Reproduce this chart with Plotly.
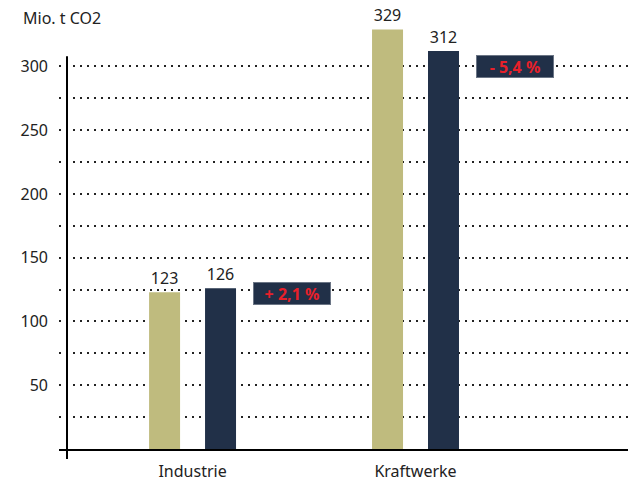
import plotly.graph_objects as go

categories = ["Industrie", "Kraftwerke"]
values_before = [123, 329]
values_after = [126, 312]
changes = ["+ 2,1 %", "- 5,4 %"]
change_y = [122, 300]
ytick_vals = [25, 50, 75, 100, 125, 150, 175, 200, 225, 250, 275, 300]
ytick_text = ["", "50", "", "100", "", "150", "", "200", "", "250", "", "300"]
unit_label = "Mio. t CO2"

KHAKI = "#bfbb7e"
NAVY = "#213048"
RED = "#e8202a"
FONT = "Noto Sans"

xpos = list(range(len(categories)))
ymin, ymax = 0, 345
xmin, xmax = -0.599, 1.953

fig = go.Figure()
fig.add_trace(go.Bar(x=xpos, y=values_before, width=0.139, offset=-0.195,
                     marker=dict(color=KHAKI, line=dict(width=0)),
                     text=[str(v) for v in values_before], textposition="outside",
                     textfont=dict(size=16, color="#222", family=FONT),
                     cliponaxis=False, showlegend=False))
fig.add_trace(go.Bar(x=xpos, y=values_after, width=0.139, offset=0.056,
                     marker=dict(color=NAVY, line=dict(width=0)),
                     text=[str(v) for v in values_after], textposition="outside",
                     textfont=dict(size=16, color="#222", family=FONT),
                     cliponaxis=False, showlegend=False))

for i, (c, cy) in enumerate(zip(changes, change_y)):
    fig.add_annotation(x=xpos[i] + 0.445, y=cy, text="<b>" + c + "</b>", showarrow=False,
                       font=dict(size=16, color=RED, family=FONT),
                       bgcolor=NAVY, bordercolor="#6b7585", borderwidth=1, borderpad=1,
                       width=74, height=19, xanchor="center", yanchor="middle")

fig.add_annotation(xref="paper", yref="paper", x=-0.066, y=0.98, xanchor="left", yanchor="middle",
                   text=unit_label, showarrow=False,
                   font=dict(size=16, color="#222", family=FONT))

# y-axis line (extends slightly below baseline)
fig.add_shape(type="line", xref="paper", yref="paper",
              x0=8 / 569, x1=8 / 569, y0=-10 / 443, y1=(308 - ymin) / (ymax - ymin),
              line=dict(color="black", width=2))

fig.update_layout(
    width=628, height=482,
    margin=dict(l=59, r=0, t=9, b=30),
    paper_bgcolor="white", plot_bgcolor="white",
    barmode="overlay",
    font=dict(family=FONT, size=16, color="#222"),
    xaxis=dict(range=[xmin, xmax], tickvals=xpos, ticktext=categories,
               showgrid=False, zeroline=False, showline=True, linecolor="black",
               linewidth=2, ticks="", ticklabelstandoff=7,
               tickfont=dict(size=16, color="#222", family=FONT)),
    yaxis=dict(range=[ymin, ymax], tickvals=ytick_vals, ticktext=ytick_text,
               showgrid=True, gridcolor="#222", gridwidth=2, griddash="2px,5px",
               zeroline=False, showline=False, ticks="", ticklabelstandoff=10,
               tickfont=dict(size=16, color="#222", family=FONT)),
)

fig.write_html("out.html")
